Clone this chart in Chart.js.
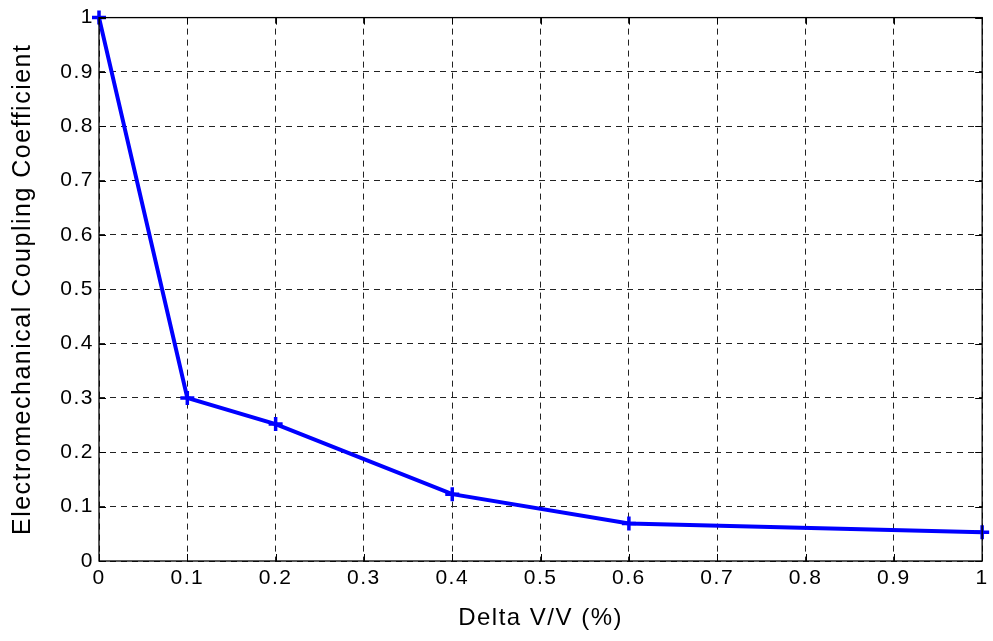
<!DOCTYPE html>
<html>
<head>
<meta charset="utf-8">
<title>Electromechanical Coupling Coefficient</title>
<script src="https://cdn.jsdelivr.net/npm/chart.js@4/dist/chart.umd.min.js"></script>
<style>
  html, body { margin: 0; padding: 0; background: #fff; }
  #wrap { width: 993px; height: 641px; }
</style>
</head>
<body>
<div id="wrap"><canvas id="myChart" width="993" height="641"></canvas></div>
<script>
const deltaV = [0, 0.1, 0.2, 0.4, 0.6, 1];
const coupling = [1, 0.3, 0.252, 0.123, 0.069, 0.053];
const tickValues = [0, 0.1, 0.2, 0.3, 0.4, 0.5, 0.6, 0.7, 0.8, 0.9, 1];

const fontFamily = '"Liberation Sans", Arial, Helvetica, sans-serif';

// slightly wider letter spacing for all text
const spacing = {
  id: 'spacing',
  beforeInit(chart) { chart.ctx.letterSpacing = '1.5px'; },
  beforeDraw(chart) { chart.ctx.letterSpacing = '1.5px'; }
};

// box around the axes + small inward ticks on all four sides
const boxTicks = {
  id: 'boxTicks',
  afterDraw(chart) {
    const { ctx, chartArea: a, scales } = chart;
    const len = 7;
    ctx.save();
    ctx.strokeStyle = '#000';
    ctx.lineWidth = 1;
    ctx.setLineDash([]);
    ctx.beginPath();
    tickValues.forEach((v) => {
      const x = Math.round(scales.x.getPixelForValue(v)) + 0.5;
      ctx.moveTo(x, a.bottom); ctx.lineTo(x, a.bottom - len);
      ctx.moveTo(x, a.top); ctx.lineTo(x, a.top + len);
      const y = Math.round(scales.y.getPixelForValue(v)) + 0.5;
      ctx.moveTo(a.left, y); ctx.lineTo(a.left + len, y);
      ctx.moveTo(a.right, y); ctx.lineTo(a.right - len, y);
    });
    ctx.stroke();
    ctx.lineWidth = 1.3;
    ctx.strokeRect(a.left, a.top, a.right - a.left, a.bottom - a.top);
    ctx.restore();
  }
};

const ctx = document.getElementById('myChart');

new Chart(ctx, {
  type: 'scatter',
  data: {
    datasets: [{
      data: deltaV.map((x, i) => ({ x: x, y: coupling[i] })),
      showLine: true,
      borderColor: '#0000ff',
      backgroundColor: '#0000ff',
      borderWidth: 4,
      pointStyle: 'cross',
      pointRadius: 7,
      pointBorderWidth: 3.5,
      pointBorderColor: '#0000ff',
      tension: 0,
      clip: false
    }]
  },
  options: {
    responsive: false,
    animation: false,
    events: [],
    layout: { padding: { left: 0, right: 8, top: 16, bottom: 0 } },
    plugins: {
      legend: { display: false },
      tooltip: { enabled: false }
    },
    scales: {
      x: {
        type: 'linear',
        min: 0,
        max: 1,
        afterFit(scale) { scale.height = 80; },
        afterBuildTicks(scale) { scale.ticks = tickValues.map((v) => ({ value: v })); },
        ticks: {
          color: '#000',
          padding: 5,
          maxRotation: 0,
          font: { family: fontFamily, size: 21 },
          callback: (v) => String(Number(v.toFixed(1)))
        },
        grid: {
          color: '#222',
          lineWidth: 1,
          drawTicks: false
        },
        border: { display: false, dash: [6, 5] },
        title: {
          display: true,
          text: 'Delta V/V (%)',
          color: '#000',
          font: { family: fontFamily, size: 24 },
          padding: { top: 4, bottom: 8 }
        }
      },
      y: {
        type: 'linear',
        min: 0,
        max: 1,
        afterFit(scale) { scale.width = 99; },
        afterBuildTicks(scale) { scale.ticks = tickValues.map((v) => ({ value: v })); },
        ticks: {
          color: '#000',
          padding: 5,
          font: { family: fontFamily, size: 21 },
          callback: (v) => String(Number(v.toFixed(1)))
        },
        grid: {
          color: '#222',
          lineWidth: 1,
          drawTicks: false
        },
        border: { display: false, dash: [6, 5] },
        title: {
          display: true,
          text: 'Electromechanical Coupling Coefficient',
          color: '#000',
          font: { family: fontFamily, size: 25 },
          padding: { top: 8, bottom: 4 }
        }
      }
    }
  },
  plugins: [spacing, boxTicks]
});
</script>
</body>
</html>
